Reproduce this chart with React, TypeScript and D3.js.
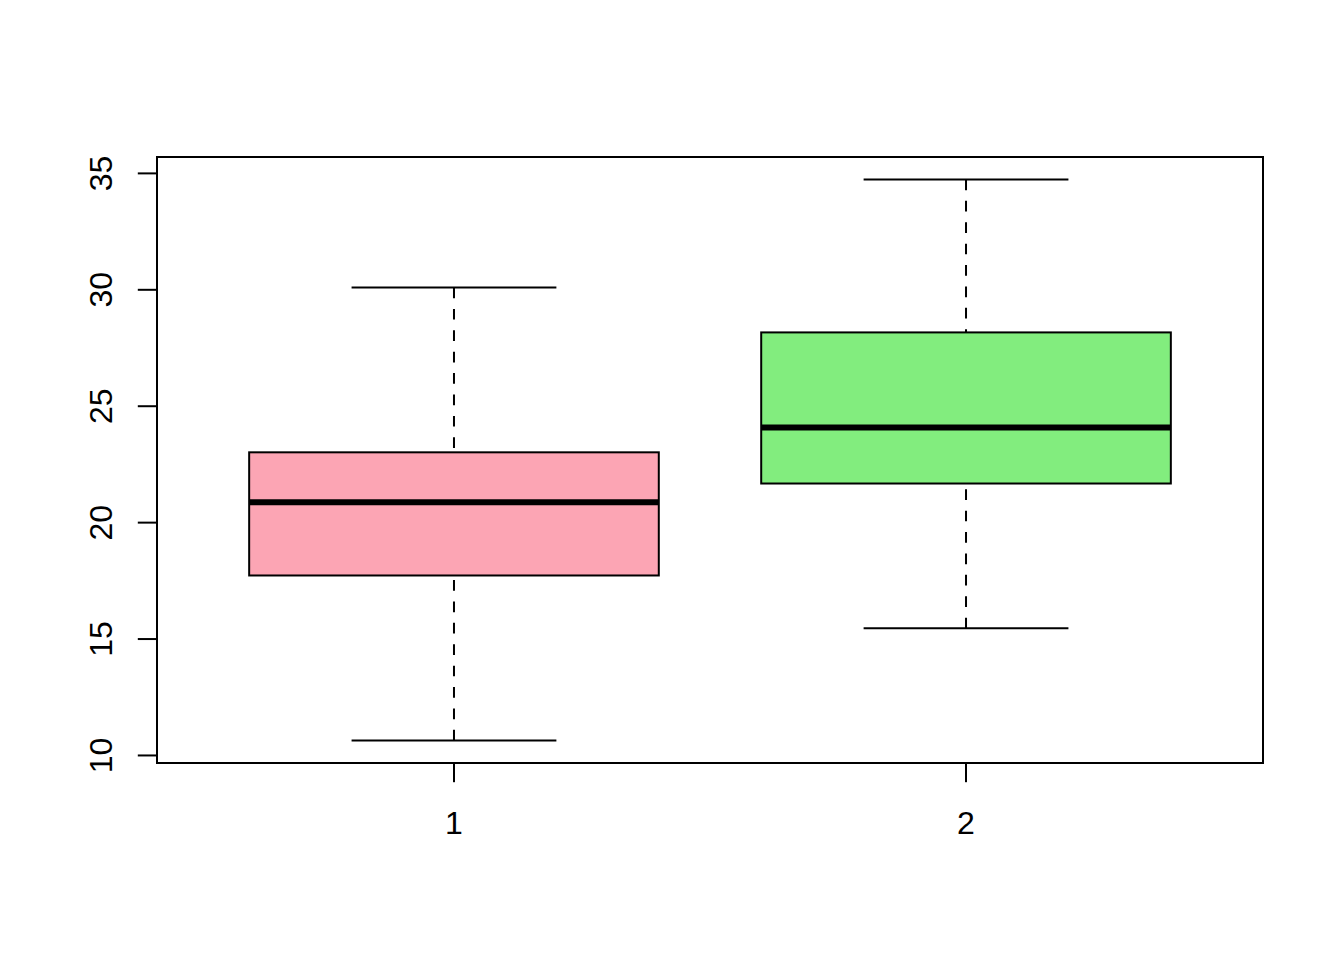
import * as d3 from 'd3';

// five-number summaries: lower whisker, q1, median, q3, upper whisker
const groups = ['1', '2'];
const lowerWhisker = [10.64, 15.46];
const lowerQuartile = [17.73, 21.68];
const medians = [20.87, 24.09];
const upperQuartile = [23.02, 28.17];
const upperWhisker = [30.1, 34.74];
const fills = ['#FCA5B4', '#82ED7E'];
const yTickValues = [10, 15, 20, 25, 30, 35];

const W = 1344;
const H = 960;
// R default mar = c(5.1, 4.1, 4.1, 2.1) lines at 38.4px per line
const margin = { top: 157, right: 81, bottom: 197, left: 157 };
const FONT = '"Liberation Sans", Arial, Helvetica, sans-serif';

export default function App() {
  const innerRight = W - margin.right;
  const innerBottom = H - margin.top - margin.bottom + margin.top;

  // R pads the axis ranges by 4% each side
  const lo = d3.min(lowerWhisker) ?? 0;
  const hi = d3.max(upperWhisker) ?? 1;
  const pad = (hi - lo) * 0.04;
  const y = d3.scaleLinear().domain([lo - pad, hi + pad]).range([innerBottom, margin.top]);

  const xPad = groups.length * 0.04;
  const x = d3
    .scaleLinear()
    .domain([0.5 - xPad, groups.length + 0.5 + xPad])
    .range([margin.left, innerRight]);

  const boxW = x(0.8) - x(0);
  const stapleW = boxW / 2;
  const tick = 19.2;

  return (
    <svg
      width={W}
      height={H}
      style={{ position: 'fixed', left: 0, top: 0, background: '#fff', display: 'block' }}
    >
      <rect x={0} y={0} width={W} height={H} fill="#fff" />

      {groups.map((g, i) => {
        const cx = x(i + 1);
        return (
          <g key={g}>
            {/* whiskers: drawn from the whisker end toward the box */}
            <line
              x1={cx}
              x2={cx}
              y1={y(lowerWhisker[i])}
              y2={y(lowerQuartile[i])}
              stroke="#000"
              strokeWidth={2}
              strokeDasharray="10.7 10.7"
            />
            <line
              x1={cx}
              x2={cx}
              y1={y(upperWhisker[i])}
              y2={y(upperQuartile[i])}
              stroke="#000"
              strokeWidth={2}
              strokeDasharray="10.7 10.7"
            />
            {/* staples */}
            <line
              x1={cx - stapleW / 2}
              x2={cx + stapleW / 2}
              y1={y(lowerWhisker[i])}
              y2={y(lowerWhisker[i])}
              stroke="#000"
              strokeWidth={2}
            />
            <line
              x1={cx - stapleW / 2}
              x2={cx + stapleW / 2}
              y1={y(upperWhisker[i])}
              y2={y(upperWhisker[i])}
              stroke="#000"
              strokeWidth={2}
            />
            {/* box */}
            <rect
              x={cx - boxW / 2}
              y={y(upperQuartile[i])}
              width={boxW}
              height={y(lowerQuartile[i]) - y(upperQuartile[i])}
              fill={fills[i]}
              stroke="#000"
              strokeWidth={2}
            />
            {/* median */}
            <line
              x1={cx - boxW / 2}
              x2={cx + boxW / 2}
              y1={y(medians[i])}
              y2={y(medians[i])}
              stroke="#000"
              strokeWidth={6}
            />
          </g>
        );
      })}

      {/* plot frame */}
      <rect
        x={margin.left}
        y={margin.top}
        width={innerRight - margin.left}
        height={innerBottom - margin.top}
        fill="none"
        stroke="#000"
        strokeWidth={2}
      />

      {/* y axis */}
      <line
        x1={margin.left}
        x2={margin.left}
        y1={y(yTickValues[0])}
        y2={y(yTickValues[yTickValues.length - 1])}
        stroke="#000"
        strokeWidth={2}
      />
      {yTickValues.map((t) => (
        <g key={`y-${t}`}>
          <line
            x1={margin.left - tick}
            x2={margin.left}
            y1={y(t)}
            y2={y(t)}
            stroke="#000"
            strokeWidth={2}
          />
          <text
            transform={`translate(${margin.left - 45}, ${y(t)}) rotate(-90)`}
            textAnchor="middle"
            fontSize={32}
            fontFamily={FONT}
            fill="#000"
          >
            {t}
          </text>
        </g>
      ))}

      {/* x axis */}
      <line
        x1={x(1)}
        x2={x(groups.length)}
        y1={innerBottom}
        y2={innerBottom}
        stroke="#000"
        strokeWidth={2}
      />
      {groups.map((g, i) => (
        <g key={`x-${g}`}>
          <line
            x1={x(i + 1)}
            x2={x(i + 1)}
            y1={innerBottom}
            y2={innerBottom + tick}
            stroke="#000"
            strokeWidth={2}
          />
          <text
            x={x(i + 1)}
            y={innerBottom + 71}
            textAnchor="middle"
            fontSize={32}
            fontFamily={FONT}
            fill="#000"
          >
            {g}
          </text>
        </g>
      ))}
    </svg>
  );
}
